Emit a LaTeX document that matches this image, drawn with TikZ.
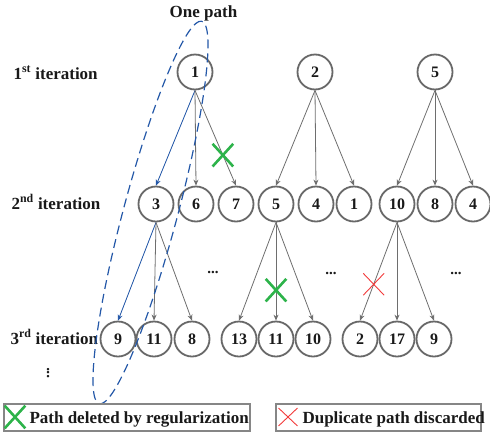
\documentclass[tikz,border=0pt]{standalone}
\usepackage{fontspec}
\setmainfont{Liberation Serif}
\usetikzlibrary{arrows.meta,shapes.misc}
\definecolor{nodegray}{HTML}{686868}
\definecolor{edgegray}{HTML}{6E6E6E}
\definecolor{pathblue}{HTML}{2458A8}
\definecolor{delgreen}{HTML}{2DB34A}
\definecolor{dupred}{HTML}{F23A3A}
\begin{document}
\begin{tikzpicture}[x=1pt, y=-1pt,
    state/.style={circle, draw=nodegray, line width=1.8pt, minimum size=35pt, inner sep=0pt,
        text=black!90, font=\fontsize{16}{18}\selectfont\bfseries},
    edge/.style={draw=edgegray, line width=0.8pt, -{Stealth[length=6pt,width=5pt]}},
    pathedge/.style={edge, draw=pathblue, fill=pathblue},
    rowtext/.style={anchor=base west, text=black!90, font=\fontsize{17}{20}\selectfont\bfseries},
    deleted/.style={cross out, draw=delgreen, line width=2.6pt, minimum width=18pt, minimum height=20pt, inner sep=0pt},
    duplicate/.style={cross out, draw=dupred, line width=0.9pt, minimum width=20pt, minimum height=21pt, inner sep=0pt},
    legbox/.style={draw=nodegray!80, line width=1.2pt, minimum height=27pt, inner sep=0pt},
    moredots/.style={text=black!90, font=\fontsize{15}{18}\selectfont\bfseries}]
    \useasboundingbox (0,0) rectangle (490,437);

    \node[rowtext] (it1) at (10,79) {1\textsuperscript{st} iteration};
    \node[rowtext] (it2) at (8,209) {2\textsuperscript{nd} iteration};
    \node[rowtext] (it3) at (7,344) {3\textsuperscript{rd} iteration};
    \node[moredots, rotate=90] (vdots) at (48,373) {...};

    \node[state] (a1) at (195,72) {1};
    \node[state] (a2) at (315,72) {2};
    \node[state] (a3) at (435,72) {5};

    \foreach \n/\x/\t in {1/156/3, 2/196/6, 3/236/7, 4/276/5, 5/316/4, 6/354/1, 7/397/10, 8/435/8, 9/473/4}
        \node[state] (b\n) at (\x,204) {\t};
    \foreach \n/\x/\t in {1/118/9, 2/154/11, 3/192/8, 4/239/13, 5/276/11, 6/313/10, 7/360/2, 8/397/17, 9/434/9}
        \node[state] (c\n) at (\x,339) {\t};

    \draw[pathedge] (a1.south) -- (b1.north);
    \draw[pathedge] (b1.south) -- (c1.north);
    \foreach \p/\c in {a1/b2, a2/b4, a2/b5, a2/b6, a3/b7, a3/b8, a3/b9, b1/c2, b1/c3, b4/c4, b4/c6, b7/c8, b7/c9}
        \draw[edge] (\p.south) -- (\c.north);
    \draw[edge] (a1.south) -- node[pos=0.68, deleted] (x1) {} (b3.north);
    \draw[edge] (b4.south) -- node[pos=0.69, deleted] (x2) {} (c5.north);
    \draw[edge] (b7.south) -- node[pos=0.63, duplicate] (x3) {} (c7.north);

    \node[moredots] (d1) at (213,272) {...};
    \node[moredots] (d2) at (331,273) {...};
    \node[moredots] (d3) at (456,273) {...};

    \draw[pathblue, line width=1.2pt, dash pattern=on 9pt off 5pt, rotate around={75:(150.5,212.5)}]
        (150.5,212.5) ellipse [x radius=198pt, y radius=27pt];
    \node[rowtext, anchor=base] (one) at (203.5,17) {One path};

    \node[legbox, minimum width=246pt] (leg1) at (127,417.5) {};
    \node[legbox, minimum width=205pt] (leg2) at (378.5,417.5) {};
    \node[deleted] (k1) at (15,417) {};
    \node[rowtext] (t1) at (26,423.5) {Path deleted by regularization};
    \node[duplicate, minimum width=18pt, minimum height=17pt] (k2) at (288,417) {};
    \node[rowtext] (t2) at (299,423.5) {Duplicate path discarded};
\end{tikzpicture}
\end{document}
